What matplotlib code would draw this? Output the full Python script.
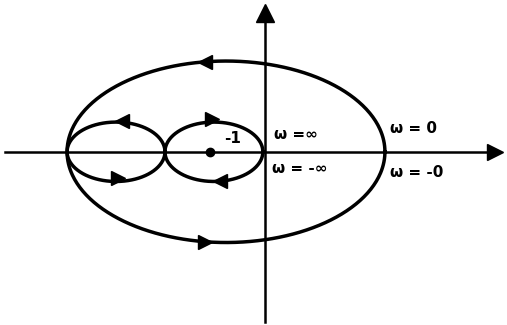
import numpy as np
import matplotlib
matplotlib.use('Agg')
import matplotlib.pyplot as plt

# Nyquist sketch, units of the real/imag plane
outerCenter, outerA, outerB = -0.71, 2.89, 1.65
lobeCenters = [-2.71, -0.93]
lobeA = [0.89, 0.89]
lobeB = [0.54, 0.54]
criticalPoint = -1.0

# arrow positions (x, y, direction) along the curves
arrowX = [-1.1, -1.1, -2.60, -2.67, -0.97, -0.82]
arrowY = [1.64, -1.64, 0.56, -0.48, 0.59, -0.54]
arrowDir = ['<', '>', '<', '>', '>', '<']

labels = ['ω =∞', 'ω = -∞', 'ω = 0', 'ω = -0']
labelX = [0.17, 0.12, 2.27, 2.27]
labelY = [0.32, -0.3, 0.42, -0.37]

fig = plt.figure(figsize=(5.07, 3.25), dpi=100)
ax = fig.add_axes([0, 0, 1, 1])
ax.set_xlim(-4.82, 4.4)
ax.set_ylim(-3.15, 2.76)
ax.axis('off')

t = np.linspace(0, 2*np.pi, 400)

#axes
ax.plot([-4.73, 4.2], [0, 0], c='k', lw=1.8)
ax.plot([0, 0], [-3.1, 2.45], c='k', lw=1.8)
ax.plot(4.18, 0, marker='>', ms=12, c='k')
ax.plot(0, 2.52, marker='^', ms=13, c='k')

#outer ellipse
ax.plot(outerCenter + outerA*np.cos(t), outerB*np.sin(t), c='k', lw=2.5)

#the two lobes
for cx, a, b in zip(lobeCenters, lobeA, lobeB):
    ax.plot(cx + a*np.cos(t), b*np.sin(t), c='k', lw=2.5)

for x, y, d in zip(arrowX, arrowY, arrowDir):
    ax.plot(x, y, marker=d, ms=10, c='k')

ax.plot(criticalPoint, 0, 'o', ms=6, c='k')
ax.text(criticalPoint + 0.25, 0.16, '-1', fontsize=11, fontweight='bold')

for s, x, y in zip(labels, labelX, labelY):
    ax.text(x, y, s, fontsize=11, fontweight='bold', va='center')

plt.savefig('out.png', dpi=100)
